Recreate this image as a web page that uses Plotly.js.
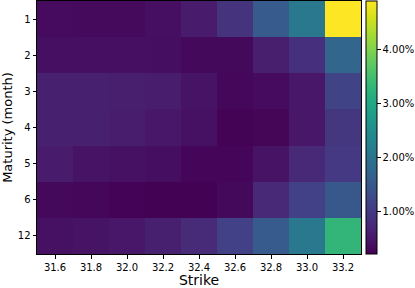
<!DOCTYPE html>
<html><head><meta charset="utf-8">
<script src="https://cdn.plot.ly/plotly-3.0.1.min.js"></script>
<style>html,body{margin:0;padding:0;background:#fff}#c{width:415px;height:288px}</style>
</head><body><div id="c"></div>
<script>
const strikes = ['31.6','31.8','32.0','32.2','32.4','32.6','32.8','33.0','33.2'];
const maturities = ['1','2','3','4','5','6','12'];
// implied volatility error in percent
const m1  = [0.35,0.33,0.33,0.40,0.55,0.90,1.55,2.10,4.90];
const m2  = [0.40,0.40,0.40,0.38,0.32,0.32,0.60,0.85,1.75];
const m3  = [0.62,0.62,0.60,0.58,0.45,0.30,0.35,0.50,1.15];
const m4  = [0.62,0.62,0.58,0.50,0.42,0.24,0.28,0.50,0.95];
const m5  = [0.55,0.45,0.42,0.38,0.27,0.27,0.45,0.75,1.00];
const m6  = [0.32,0.30,0.25,0.23,0.23,0.32,0.75,1.10,1.50];
const m12 = [0.42,0.45,0.50,0.62,0.78,1.10,1.55,2.10,3.30];
const z = [m1,m2,m3,m4,m5,m6,m12];
const cbTicks = [1,2,3,4];
const cbLabels = ['1.00%','2.00%','3.00%','4.00%'];

const font = {family:'DejaVu Sans, sans-serif', size:10, color:'#000'};
Plotly.newPlot('c', [{
  type:'heatmap', x:strikes, y:maturities, z:z,
  colorscale:'Viridis', zmin:0.22, zmax:4.9, xgap:0, ygap:0,
  colorbar:{x:1.012, xanchor:'left', thickness:11, len:1, lenmode:'fraction', y:0.5, yanchor:'middle',
    outlinewidth:1, outlinecolor:'#000', ticks:'outside', ticklen:3.5, tickcolor:'#000',
    tickvals:cbTicks, ticktext:cbLabels, tickfont:font, xpad:0, ypad:0}
}], {
  width:415, height:288, margin:{l:37, r:53, t:1, b:34},
  paper_bgcolor:'#fff', plot_bgcolor:'#fff', font:font,
  xaxis:{type:'category', showline:true, mirror:true, linecolor:'#000', linewidth:1, ticks:'outside', ticklen:3.5,
    tickcolor:'#000', tickfont:font, showgrid:false, zeroline:false,
    title:{text:'Strike', font:{family:'DejaVu Sans, sans-serif', size:14, color:'#000'}, standoff:2}},
  yaxis:{type:'category', autorange:'reversed', showline:true, mirror:true, linecolor:'#000', linewidth:1, ticks:'outside', ticklen:3.5,
    tickcolor:'#000', tickfont:font, showgrid:false, zeroline:false,
    title:{text:'Maturity (month)', font:{family:'DejaVu Sans, sans-serif', size:13, color:'#000'}, standoff:5}}
}, {displayModeBar:false, staticPlot:true});
</script></body></html>
